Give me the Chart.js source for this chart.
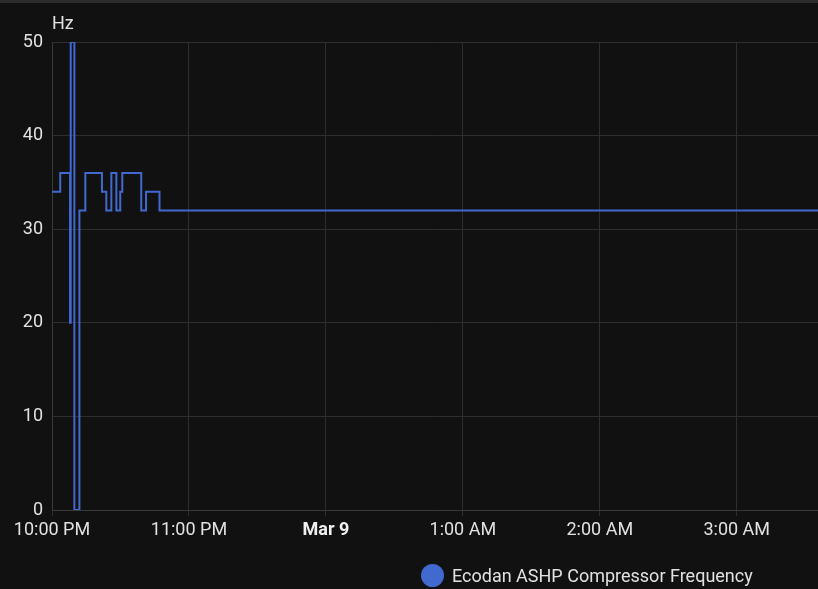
<!DOCTYPE html>
<html>
<head>
<meta charset="utf-8">
<script src="https://cdn.jsdelivr.net/npm/chart.js@4.4.1/dist/chart.umd.min.js"></script>
<style>
  html, body { margin: 0; padding: 0; background: #111111; }
  #wrap { position: relative; width: 818px; height: 589px; overflow: hidden; }
  #topbar { position: absolute; left: 0; top: 0; width: 818px; height: 3px; background: #2c2c2c; }
  #legend { position: absolute; left: 421px; top: 564px; display: flex; align-items: center;
            font-family: Roboto, sans-serif; font-size: 18px; color: #e1e1e1; white-space: nowrap; }
  #legend .dot { width: 23px; height: 23px; border-radius: 50%; background: #4269d0; margin-right: 8px; }
</style>
</head>
<body>
<div id="wrap">
  <canvas id="c" width="818" height="589"></canvas>
  <div id="topbar"></div>
  <div id="legend"><span class="dot"></span><span>Ecodan ASHP Compressor Frequency</span></div>
</div>
<script>
// minutes after 10:00 PM (Mar 8) at which the value changes
const timesMin = [0, 3.6, 7.9, 8.2, 9.8, 12.0, 14.6, 21.9, 23.8, 26.0, 28.2, 29.9, 30.8, 39.1, 41.2, 47.1, 335.6];
const freqHz   = [34, 36, 20, 50, 0, 32, 36, 34, 32, 36, 32, 34, 36, 32, 34, 32, 32];
const seriesName = 'Ecodan ASHP Compressor Frequency';
const unitLabel = 'Hz';
const xTickLabels = { 0: '10:00 PM', 60: '11:00 PM', 120: 'Mar 9', 180: '1:00 AM', 240: '2:00 AM', 300: '3:00 AM' };
const xMax = 335.6;
const yTicks = [0, 10, 20, 30, 40, 50];

const points = timesMin.map((t, i) => ({ x: t, y: freqHz[i] }));

const FONT = 'Roboto';
const TXT = '#e1e1e1';
const FS = 18;

const unitPlugin = {
  id: 'unitLabel',
  afterDraw(chart) {
    const ctx = chart.ctx;
    ctx.save();
    ctx.font = FS + 'px ' + FONT;
    ctx.fillStyle = TXT;
    ctx.textAlign = 'left';
    ctx.textBaseline = 'alphabetic';
    ctx.fillText(unitLabel, chart.chartArea.left, 29);
    ctx.restore();
  }
};

new Chart(document.getElementById('c'), {
  type: 'line',
  data: {
    datasets: [{
      label: seriesName,
      data: points,
      borderColor: '#4269d0',
      backgroundColor: '#4269d0',
      borderWidth: 2,
      pointRadius: 0,
      stepped: true,
      fill: false,
      tension: 0
    }]
  },
  options: {
    responsive: false,
    animation: false,
    layout: { padding: { top: 42, right: 0, bottom: 0, left: 0 } },
    plugins: { legend: { display: false }, tooltip: { enabled: false } },
    scales: {
      x: {
        type: 'linear',
        min: 0,
        max: xMax,
        afterFit(s) { s.height = 79; },
        afterBuildTicks(s) { s.ticks = s.ticks.filter(t => xTickLabels[t.value] !== undefined); },
        grid: { color: '#2e2e2e', tickLength: 6, drawTicks: true },
        border: { color: '#3a3a3a' },
        ticks: {
          stepSize: 60,
          includeBounds: false,
          maxRotation: 0,
          autoSkip: false,
          padding: 4,
          color: (c) => (c.tick && c.tick.value === 120) ? '#f0f0f0' : TXT,
          font: (c) => ({ family: FONT, size: FS, weight: (c.tick && c.tick.value === 120) ? 'bold' : 'normal' }),
          callback: (v) => xTickLabels[v] ?? ''
        }
      },
      y: {
        min: 0,
        max: 50,
        afterFit(s) { s.width = 52; },
        afterBuildTicks(s) { s.ticks = yTicks.map(v => ({ value: v })); },
        grid: { color: '#2e2e2e', drawTicks: false },
        border: { color: '#3a3a3a' },
        ticks: {
          stepSize: 10,
          padding: 9,
          color: TXT,
          font: { family: FONT, size: FS }
        }
      }
    }
  },
  plugins: [unitPlugin]
});
</script>
</body>
</html>
